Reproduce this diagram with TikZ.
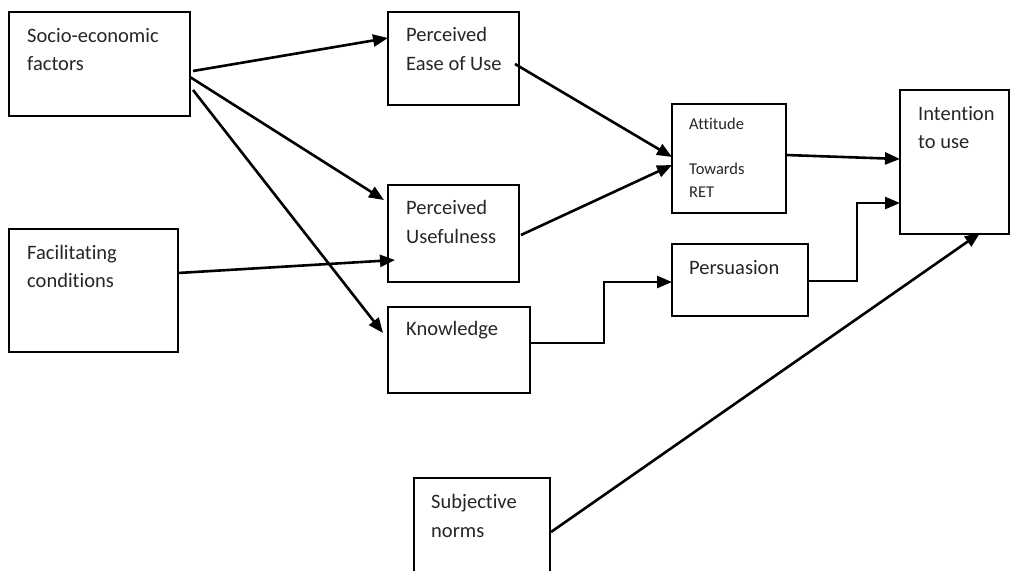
\documentclass[tikz,border=0pt]{standalone}
\usepackage{fontspec}
\setmainfont{Carlito}[Ligatures={NoCommon,NoRequired,NoContextual}]
\usetikzlibrary{arrows.meta,calc}
\tikzset{
  box/.style={draw=black, line width=1.8pt, rectangle, anchor=north west, inner sep=0pt, outer sep=0pt},
  txt/.style={anchor=base west, inner sep=0pt, font=\fontsize{20.5}{24}\selectfont, text=black!85},
  stxt/.style={anchor=base west, inner sep=0pt, font=\fontsize{16.5}{20}\selectfont, text=black!85},
  arr/.style={line width=2.6pt, -{Triangle[length=15pt,width=12pt]}},
}
\begin{document}
\begin{tikzpicture}[x=1pt,y=-1pt]
\useasboundingbox (0,0) rectangle (1011,570);
\clip (0,0) rectangle (1011,570);
\fill[white] (0,0) rectangle (1011,570);
% boxes
\node[box, minimum width=181pt, minimum height=104pt] (socio) at (9,12) {};
\node[box, minimum width=169pt, minimum height=123pt] (facil) at (9,229) {};
\node[box, minimum width=131pt, minimum height=93pt] (peou) at (388,12) {};
\node[box, minimum width=131pt, minimum height=97pt] (pu) at (388,185) {};
\node[box, minimum width=142pt, minimum height=86pt] (know) at (388,307) {};
\node[box, minimum width=114pt, minimum height=109pt] (att) at (672,104) {};
\node[box, minimum width=136pt, minimum height=72pt] (pers) at (672,244) {};
\node[box, minimum width=109pt, minimum height=144pt] (int) at (900,90) {};
\node[box, minimum width=136pt, minimum height=120pt] (subj) at (414,478) {};
% texts
\node[txt] (socio-a) at ($(socio.north west)+(18,30)$) {Socio-economic};
\node[txt] (socio-b) at ($(socio-a.base west)+(0,28)$) {factors};
\node[txt] (facil-a) at ($(facil.north west)+(18,30)$) {Facilitating};
\node[txt] (facil-b) at ($(facil-a.base west)+(0,28)$) {conditions};
\node[txt] (peou-a) at ($(peou.north west)+(18,29)$) {Perceived};
\node[txt] (peou-b) at ($(peou-a.base west)+(0,29)$) {Ease of Use};
\node[txt] (pu-a) at ($(pu.north west)+(18,29)$) {Perceived};
\node[txt] (pu-b) at ($(pu-a.base west)+(0,29)$) {Usefulness};
\node[txt] (know-a) at ($(know.north west)+(18,28)$) {Knowledge};
\node[stxt] (att-a) at ($(att.north west)+(17,25)$) {Attitude};
\node[stxt] (att-b) at ($(att.north west)+(17,70)$) {Towards};
\node[stxt] (att-c) at ($(att.north west)+(17,93)$) {RET};
\node[txt] (pers-a) at ($(pers.north west)+(17,30)$) {Persuasion};
\node[txt] (int-a) at ($(int.north west)+(18,30)$) {Intention};
\node[txt] (int-b) at ($(int-a.base west)+(0,28)$) {to use};
\node[txt] (subj-a) at ($(subj.north west)+(17,30)$) {Subjective};
\node[txt] (subj-b) at ($(subj-a.base west)+(0,29)$) {norms};
% connectors
\draw[arr] ($(socio.north east)+(3,59)$) -- ($(peou.north west)+(0,26)$);
\draw[arr] ($(socio.north east)+(0,65)$) -- ($(pu.north west)+(-4,15)$);
\draw[arr] ($(socio.north east)+(3,78)$) -- ($(know.north west)+(-5,26)$);
\draw[arr] ($(facil.north east)+(0,44)$) -- ($(pu.north west)+(7,75)$);
\draw[arr] ($(peou.north east)+(-4,52)$) -- ($(att.north west)+(0,53)$);
\draw[arr] ($(pu.north east)+(2,50)$) -- ($(att.north west)+(0,61)$);
\draw[arr] ($(att.north east)+(0,51)$) -- ($(int.north west)+(0,69)$);
\draw[arr] ($(pers.north east)+(0,37)$) -| ($(int.north west)+(-43,113)$) -- ($(int.north west)+(0,113)$);
\draw[arr] ($(know.north east)+(1,36)$) -| ($(pers.north west)+(-68,38)$) -- ($(pers.north west)+(0,38)$);
\draw[arr] ($(subj.north east)+(1,54)$) -- ($(int.north west)+(80,143)$);
\end{tikzpicture}
\end{document}
